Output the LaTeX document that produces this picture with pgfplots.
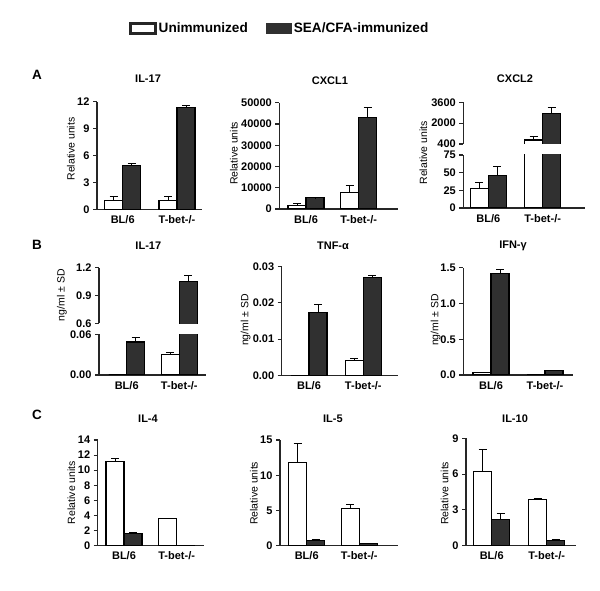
\documentclass[border=0pt]{standalone}
\usepackage{pgfplots}
\pgfplotsset{compat=1.18}
\usepackage{fontspec}
\setmainfont{Liberation Sans}
\definecolor{darkbar}{HTML}{303030}
\pgfplotsset{
 gp/.style={scale only axis, axis x line=bottom, axis y line=left,
   axis line style={line width=1.1pt,-,black!85},
   enlargelimits=false, xtick style={draw=none},
   ytick style={line width=1.1pt,black!85}, tick align=outside, major tick length=4pt,
   ticklabel style={font=\bfseries\fontsize{11}{13}\selectfont},
   xticklabel style={yshift=1.5pt},
   /pgf/number format/assume math mode=true,
   /pgf/number format/1000 sep={}, scaled y ticks=false,
   ylabel style={font=\fontsize{10.5}{12}\selectfont, anchor=center},
   title style={font=\bfseries\fontsize{11}{13}\selectfont, anchor=center},
   xticklabels={BL/6, T-bet-/-}},
 gpup/.style={gp, axis x line=none},
 eb/.style={error bars/.cd, y dir=plus, y explicit, error bar style={line width=1pt,black},
   error mark options={rotate=90, mark size=4pt, line width=1pt,black}},
 wb/.style={ybar, bar width=18, bar shift=0pt, fill=white, draw=black, line width=1.1pt, eb},
 db/.style={ybar, bar width=18, bar shift=0pt, fill=darkbar, draw=black, line width=1.1pt, eb},
 wpoly/.style={fill=white, draw=black, line width=1.1pt, mark=none},
 dpoly/.style={fill=darkbar, draw=black, line width=1.1pt, mark=none},
 ebonly/.style={ybar, bar width=18, bar shift=0pt, draw=none, fill=none, eb},
}
\begin{document}
\begin{tikzpicture}
\useasboundingbox (0,0) rectangle (600pt,590pt);
% ---------- Row A ----------
\begin{axis}[gp, at={(97pt,380.7pt)}, anchor=south west, width=105pt, height=107.6pt,
  xmin=0, xmax=105, ymin=0, ymax=12, ytick={0,3,6,9,12}, xtick={25.7,80},
  ylabel={Relative units}, ylabel style={at={(axis description cs:-0.248,0.56)}},
  title={IL-17}, title style={at={(axis description cs:0.486,1)}, yshift=17pt},
  legend columns=2,
  legend image code/.code={\draw[#1] (0pt,-5pt) rectangle (25pt,5pt);},
  legend style={at={(axis description cs:0.3076,1.68)}, anchor=west, draw=none, fill=none,
    inner xsep=0pt, inner ysep=0pt, font=\bfseries\fontsize{13.6}{16}\selectfont,
    /tikz/every even column/.append style={column sep=16pt}}]
\addlegendimage{fill=white, draw=black!85, line width=2.2pt}
\addlegendentry{Unimmunized}
\addlegendimage{fill=darkbar, draw=darkbar, line width=1pt}
\addlegendentry{SEA/CFA-immunized}
\addplot[forget plot, wb] coordinates {(16.7,1.0) +- (0,0.45) (71,1.0) +- (0,0.4)};
\addplot[forget plot, db] coordinates {(34.7,4.85) +- (0,0.28) (89,11.33) +- (0,0.3)};
\end{axis}
\begin{axis}[gp, at={(279.3pt,381pt)}, anchor=south west, width=118.7pt, height=106.3pt,
  xmin=0, xmax=118.7, ymin=0, ymax=50000, ytick={0,10000,20000,30000,40000,50000}, xtick={26.7,79.4},
  ylabel={Relative units}, ylabel style={at={(axis description cs:-0.382,0.524)}},
  title={CXCL1}, title style={at={(axis description cs:0.427,1)}, yshift=16pt}]
\addplot[wb] coordinates {(17.7,1550) +- (0,1100) (70.4,7600) +- (0,3300)};
\addplot[db] coordinates {(35.7,5200) +- (0,150) (88.4,42900) +- (0,4700)};
\end{axis}
% CXCL2 lower segment (0-75)
\begin{axis}[gp, at={(463.3pt,382pt)}, anchor=south west, width=121.7pt, height=53pt,
  xmin=0, xmax=121.7, ymin=0, ymax=75, ytick={0,25,50,75}, xtick={25,79.4},
  ylabel={Relative units}, ylabel style={at={(axis description cs:-0.329,1.038)}}]
\addplot[wb] coordinates {(16,27) +- (0,9) (70.4,710) +- (0,250)};
\addplot[db] coordinates {(34,46) +- (0,13) (88.4,2760) +- (0,430)};
\end{axis}
% CXCL2 upper segment (400-3600)
\begin{axis}[gpup, at={(463.3pt,446pt)}, anchor=south west, width=121.7pt, height=41.7pt,
  xmin=0, xmax=121.7, ymin=400, ymax=3600, ytick={400,2000,3600}, xtick={25,79.4},
  title={CXCL2}, title style={at={(axis description cs:0.425,1)}, yshift=17.3pt}]
\addplot[wpoly] coordinates {(61.4,0) (61.4,710) (79.4,710) (79.4,0)};
\addplot[dpoly] coordinates {(79.4,0) (79.4,2760) (97.4,2760) (97.4,0)};
\addplot[ebonly] coordinates {(70.4,710) +- (0,250) (88.4,2760) +- (0,430)};
\end{axis}
% ---------- Row B ----------
\begin{axis}[gp, at={(99pt,215pt)}, anchor=south west, width=107pt, height=40.7pt,
  xmin=0, xmax=107, ymin=0, ymax=0.06, ytick={0,0.06}, xtick={27.7,80.3},
  yticklabel style={/pgf/number format/.cd, fixed, fixed zerofill, precision=2},
  ylabel={ng/ml ± SD}, ylabel style={at={(axis description cs:-0.346,1.96)}}]
\addplot[wb] coordinates {(18.7,0) (71.3,0.0305) +- (0,0.003)};
\addplot[db] coordinates {(36.7,0.0487) +- (0,0.007) (89.3,1.049) +- (0,0.072)};
\end{axis}
\begin{axis}[gpup, at={(99pt,266.7pt)}, anchor=south west, width=107pt, height=55.6pt,
  xmin=0, xmax=107, ymin=0.6, ymax=1.2, ytick={0.6,0.9,1.2}, xtick={27.7,80.3},
  yticklabel style={/pgf/number format/.cd, fixed, fixed zerofill, precision=1},
  title={IL-17}, title style={at={(axis description cs:0.461,1)}, yshift=15.7pt}]
\addplot[dpoly] coordinates {(80.3,0) (80.3,1.049) (98.3,1.049) (98.3,0)};
\addplot[ebonly] coordinates {(89.3,1.049) +- (0,0.072)};
\end{axis}
\begin{axis}[gp, at={(281.7pt,214.7pt)}, anchor=south west, width=116.6pt, height=108.6pt,
  xmin=0, xmax=116.6, ymin=0, ymax=0.03, ytick={0,0.01,0.02,0.03}, xtick={27.3,81.6},
  yticklabel style={/pgf/number format/.cd, fixed, fixed zerofill, precision=2},
  ylabel={ng/ml ± SD}, ylabel style={at={(axis description cs:-0.309,0.509)}},
  title={TNF-α}, title style={at={(axis description cs:0.44,1)}, yshift=14.7pt}]
\addplot[wb] coordinates {(18.3,0) (72.6,0.0040) +- (0,0.0007)};
\addplot[db] coordinates {(36.3,0.0174) +- (0,0.0021) (90.6,0.0270) +- (0,0.0006)};
\end{axis}
\begin{axis}[gp, at={(463.3pt,215pt)}, anchor=south west, width=110pt, height=107.3pt,
  xmin=0, xmax=110, ymin=0, ymax=1.5, ytick={0,0.5,1,1.5}, xtick={27.7,81.7},
  yticklabel style={/pgf/number format/.cd, fixed, fixed zerofill, precision=1},
  ylabel={ng/ml ± SD}, ylabel style={at={(axis description cs:-0.251,0.513)}},
  title={IFN-γ}, title style={at={(axis description cs:0.452,1)}, yshift=15.7pt}]
\addplot[wb] coordinates {(18.7,0.032) (72.7,0)};
\addplot[db] coordinates {(36.7,1.42) +- (0,0.058) (90.7,0.06)};
\end{axis}
% ---------- Row C ----------
\begin{axis}[gp, at={(97.7pt,44.3pt)}, anchor=south west, width=106.3pt, height=105.7pt,
  xmin=0, xmax=106.3, ymin=0, ymax=14, ytick={0,2,...,14}, xtick={26.3,79},
  ylabel={Relative units}, ylabel style={at={(axis description cs:-0.248,0.503)}},
  title={IL-4}, title style={at={(axis description cs:0.473,1)}, yshift=15pt}]
\addplot[wb] coordinates {(17.3,11.13) +- (0,0.37) (70,3.58) +- (0,0.07)};
\addplot[db] coordinates {(35.3,1.64) +- (0,0.17) (88,0.05)};
\end{axis}
\begin{axis}[gp, at={(280pt,44.3pt)}, anchor=south west, width=117.7pt, height=105.7pt,
  xmin=0, xmax=117.7, ymin=0, ymax=15, ytick={0,5,10,15}, xtick={26.7,79.3},
  ylabel={Relative units}, ylabel style={at={(axis description cs:-0.223,0.496)}},
  title={IL-5}, title style={at={(axis description cs:0.45,1)}, yshift=15pt}]
\addplot[wb] coordinates {(17.7,11.83) +- (0,2.7) (70.3,5.3) +- (0,0.6)};
\addplot[db] coordinates {(35.7,0.8) +- (0,0.1) (88.3,0.35)};
\end{axis}
\begin{axis}[gp, at={(466pt,44.3pt)}, anchor=south west, width=109.7pt, height=107.4pt,
  xmin=0, xmax=109.7, ymin=0, ymax=9, ytick={0,3,6,9}, xtick={25.7,80.7},
  ylabel={Relative units}, ylabel style={at={(axis description cs:-0.194,0.488)}},
  title={IL-10}, title style={at={(axis description cs:0.447,1)}, yshift=13.3pt}]
\addplot[wb] coordinates {(16.7,6.2) +- (0,1.9) (71.7,3.89) +- (0,0.07)};
\addplot[db] coordinates {(34.7,2.2) +- (0,0.46) (89.7,0.4) +- (0,0.15)};
\end{axis}
\node[font=\bfseries\fontsize{13.5}{15}\selectfont] at (37pt,515pt) {A};
\node[font=\bfseries\fontsize{13.5}{15}\selectfont] at (37pt,345pt) {B};
\node[font=\bfseries\fontsize{13.5}{15}\selectfont] at (37pt,175pt) {C};
\end{tikzpicture}
\end{document}
